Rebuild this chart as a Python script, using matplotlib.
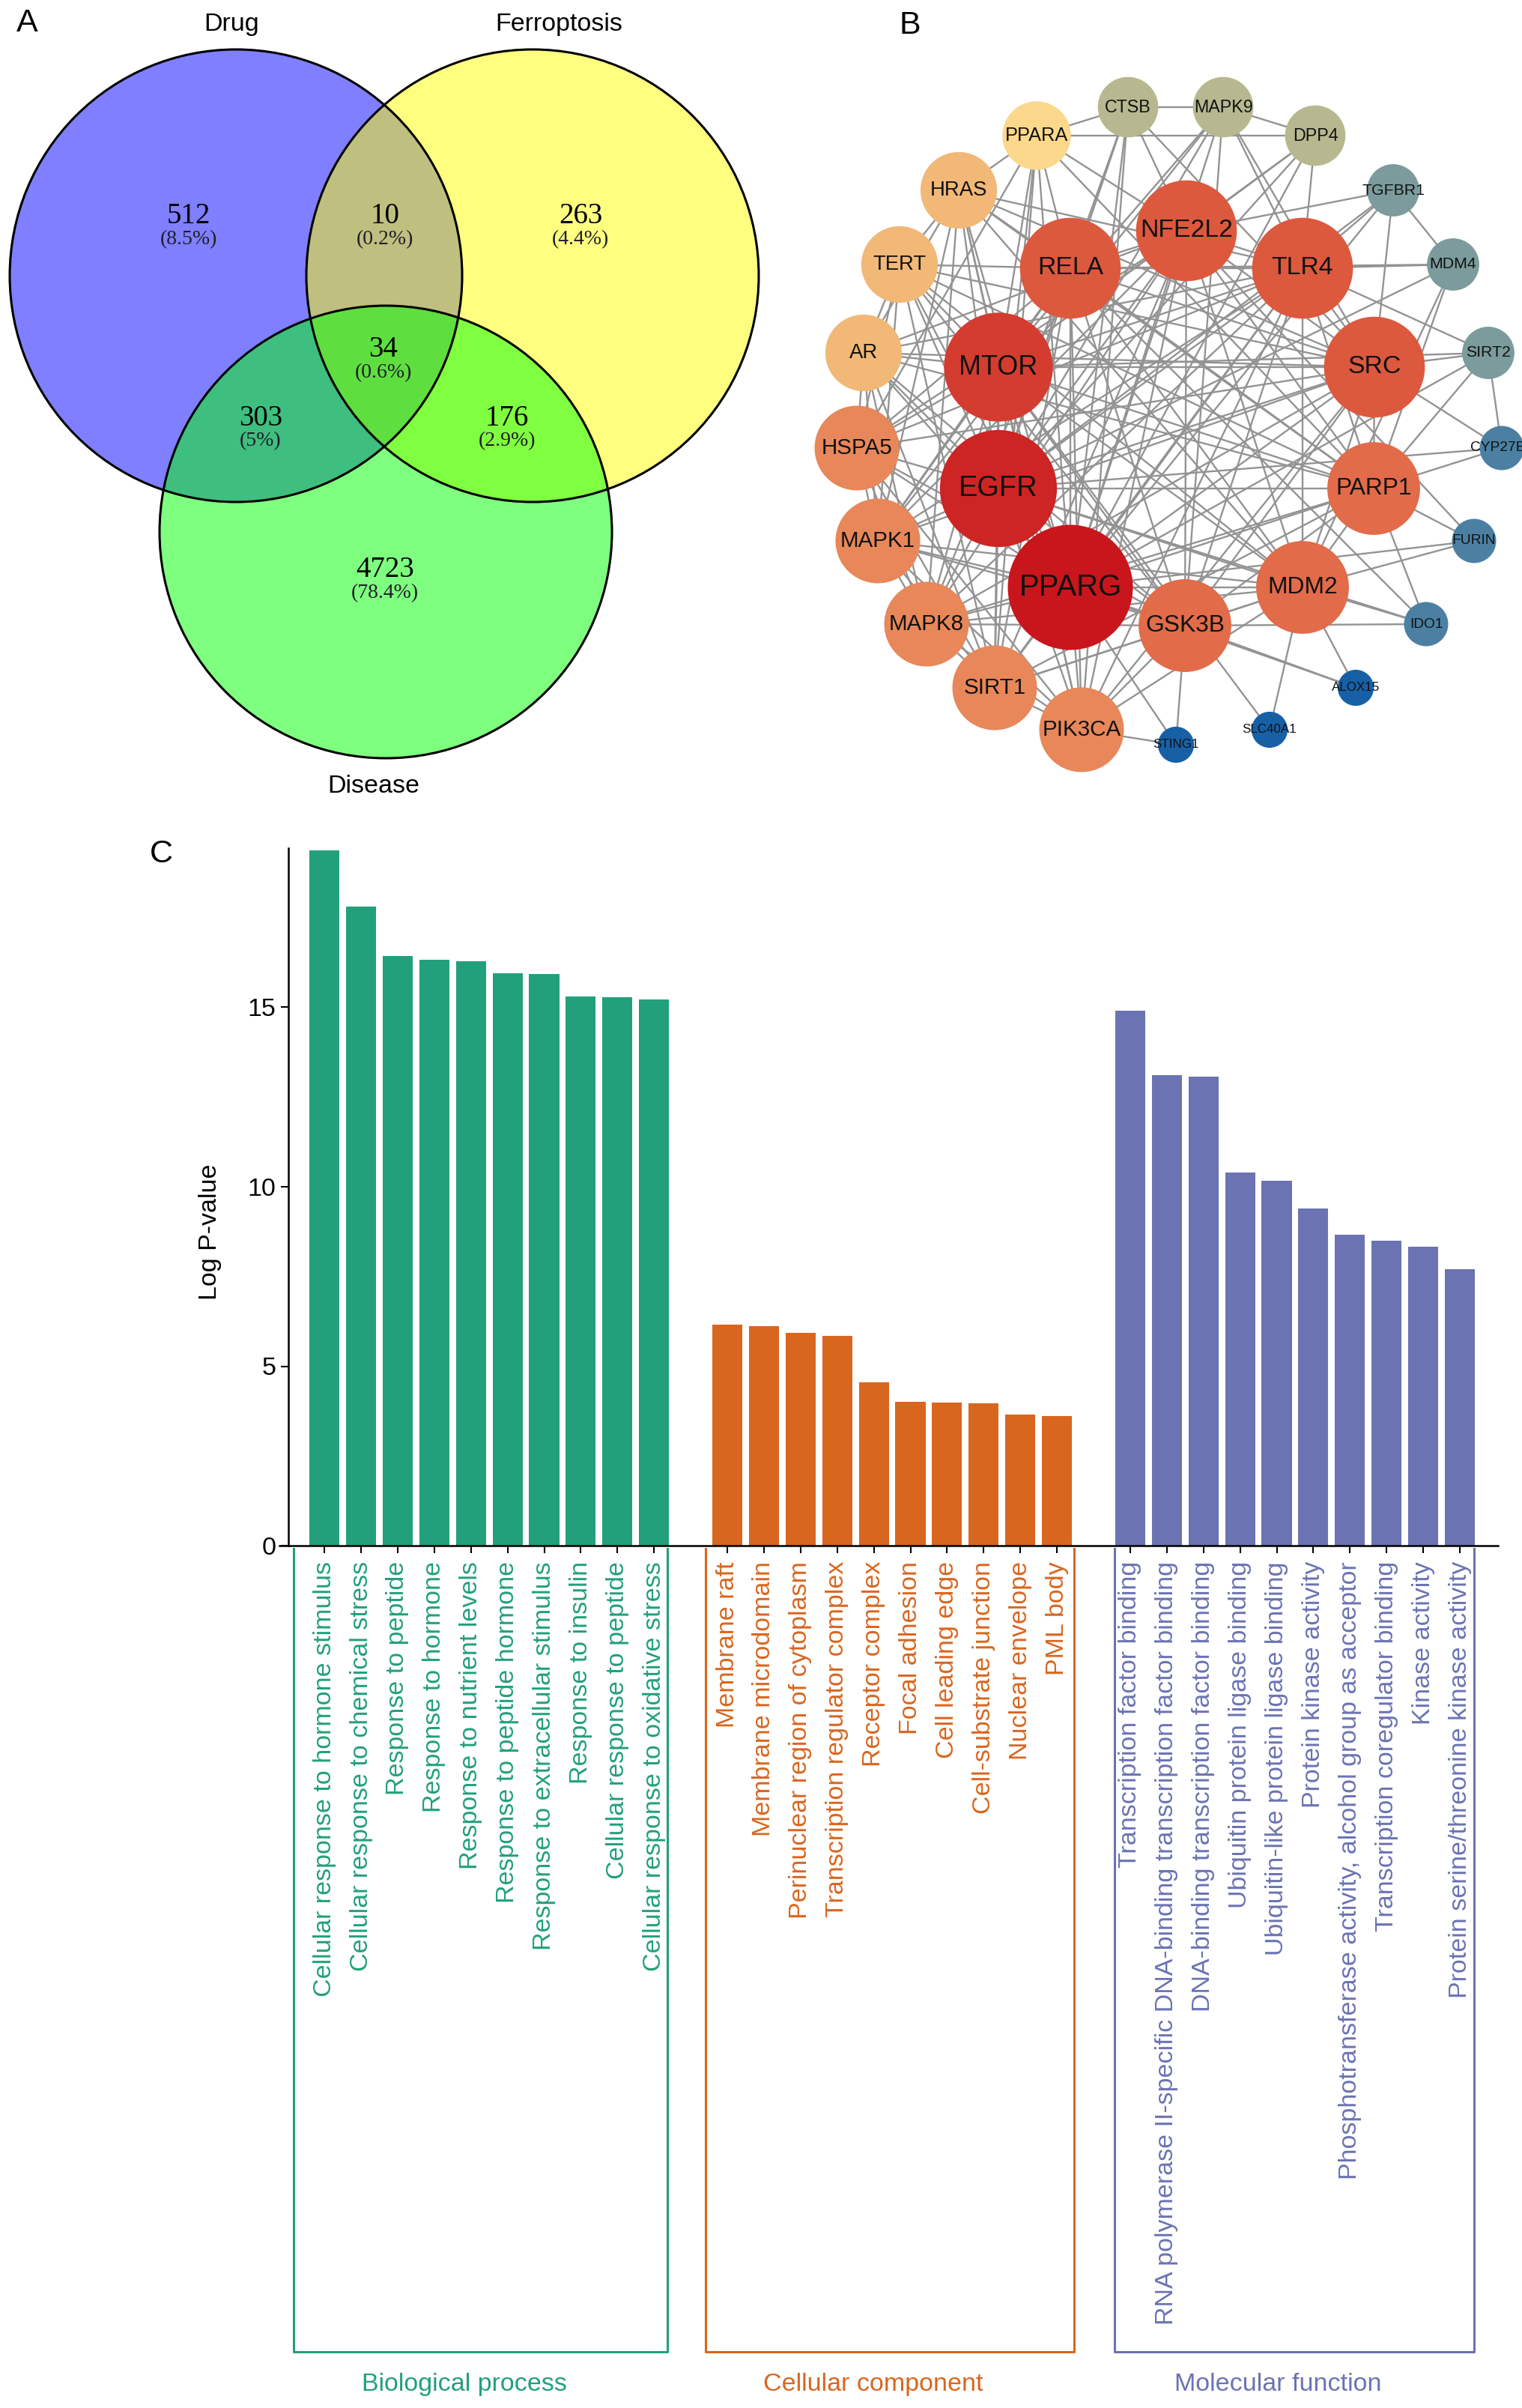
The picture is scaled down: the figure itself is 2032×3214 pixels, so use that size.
import matplotlib
matplotlib.use('Agg')
import matplotlib.pyplot as plt
import matplotlib.transforms as mtransforms
from matplotlib.patches import Circle
from matplotlib.colors import LinearSegmentedColormap, Normalize

plt.rcParams['font.family'] = ['Liberation Sans', 'DejaVu Sans']

W, H, DPI = 2032, 3214, 100

# ---------------- A: Venn ----------------
venn_sets = ['Drug', 'Ferroptosis', 'Disease']
venn_counts = [512, 10, 263, 34, 303, 176, 4723]   # D, D&F, F, all, D&Dis, F&Dis, Dis
venn_total = sum(venn_counts)

# ---------------- B: PPI network ----------------
net_nodes = ['PPARG', 'EGFR', 'MTOR', 'RELA', 'NFE2L2', 'TLR4', 'SRC', 'PARP1', 'MDM2', 'GSK3B',
             'MAPK8', 'SIRT1', 'PIK3CA', 'MAPK1', 'HSPA5', 'AR', 'TERT', 'HRAS', 'PPARA',
             'CTSB', 'MAPK9', 'DPP4', 'TGFBR1', 'MDM4', 'SIRT2', 'CYP27B1', 'FURIN', 'IDO1',
             'ALOX15', 'SLC40A1', 'STING1']
net_degree = [25, 23, 21, 19, 19, 19, 19, 17, 17, 17, 15, 15, 15, 15, 15, 13, 13, 13, 11,
              9, 9, 9, 7, 7, 7, 5, 5, 5, 3, 3, 3]
net_edges = {
    'PPARG': ['EGFR', 'MTOR', 'RELA', 'NFE2L2', 'TLR4', 'SRC', 'PARP1', 'MDM2', 'GSK3B', 'MAPK8',
              'SIRT1', 'PIK3CA', 'MAPK1', 'HSPA5', 'AR', 'TERT', 'HRAS', 'PPARA', 'CTSB', 'MAPK9',
              'DPP4', 'TGFBR1', 'SIRT2', 'FURIN', 'ALOX15', 'STING1'],
    'EGFR': ['MTOR', 'RELA', 'NFE2L2', 'TLR4', 'SRC', 'PARP1', 'MDM2', 'GSK3B', 'MAPK8', 'SIRT1',
             'PIK3CA', 'MAPK1', 'HSPA5', 'AR', 'TERT', 'HRAS', 'PPARA', 'CTSB', 'MAPK9', 'DPP4',
             'TGFBR1', 'MDM4', 'CYP27B1', 'IDO1'],
    'MTOR': ['RELA', 'NFE2L2', 'TLR4', 'SRC', 'PARP1', 'MDM2', 'GSK3B', 'MAPK8', 'SIRT1', 'PIK3CA',
             'MAPK1', 'HSPA5', 'AR', 'TERT', 'HRAS', 'PPARA', 'MAPK9', 'DPP4', 'SIRT2', 'SLC40A1'],
    'RELA': ['NFE2L2', 'TLR4', 'SRC', 'PARP1', 'MDM2', 'GSK3B', 'MAPK8', 'SIRT1', 'PIK3CA', 'MAPK1',
             'HSPA5', 'TERT', 'HRAS', 'PPARA', 'CTSB', 'MDM4', 'IDO1'],
    'NFE2L2': ['TLR4', 'SRC', 'PARP1', 'MDM2', 'GSK3B', 'MAPK8', 'SIRT1', 'PIK3CA', 'MAPK1', 'HSPA5',
               'AR', 'PPARA', 'CTSB', 'DPP4', 'TGFBR1', 'FURIN'],
    'TLR4': ['SRC', 'PARP1', 'MDM2', 'GSK3B', 'MAPK8', 'SIRT1', 'PIK3CA', 'MAPK1', 'HSPA5', 'AR',
             'HRAS', 'MAPK9', 'DPP4', 'TGFBR1', 'MDM4', 'SIRT2'],
    'SRC': ['PARP1', 'MDM2', 'GSK3B', 'MAPK8', 'PIK3CA', 'MAPK1', 'HSPA5', 'AR', 'TERT', 'HRAS',
            'CTSB', 'MAPK9', 'TGFBR1', 'SIRT2', 'CYP27B1'],
    'PARP1': ['MDM2', 'GSK3B', 'SIRT1', 'MAPK8', 'AR', 'TERT', 'HRAS', 'PPARA', 'MDM4', 'SIRT2',
              'CYP27B1', 'FURIN', 'IDO1'],
    'MDM2': ['GSK3B', 'MAPK8', 'SIRT1', 'PIK3CA', 'MAPK1', 'TERT', 'HRAS', 'MDM4', 'FURIN', 'IDO1',
             'ALOX15', 'SLC40A1'],
    'GSK3B': ['MAPK8', 'SIRT1', 'PIK3CA', 'MAPK1', 'HSPA5', 'AR', 'TERT', 'MAPK9', 'IDO1', 'ALOX15',
              'STING1'],
    'MAPK8': ['SIRT1', 'PIK3CA', 'MAPK1', 'HSPA5', 'AR', 'HRAS'],
    'SIRT1': ['PIK3CA', 'MAPK1', 'HSPA5', 'AR', 'TERT', 'PPARA'],
    'PIK3CA': ['MAPK1', 'HSPA5', 'HRAS', 'STING1', 'CTSB'],
    'MAPK1': ['HSPA5', 'AR', 'TERT', 'HRAS', 'MAPK9'],
    'HSPA5': ['AR', 'TERT', 'PPARA'],
    'AR': ['TERT', 'HRAS'],
    'TERT': ['HRAS'],
    'HRAS': ['PPARA'],
    'PPARA': ['CTSB', 'DPP4'],
    'CTSB': ['MAPK9'],
    'MAPK9': ['DPP4'],
    'TGFBR1': ['MDM4'],
    'SIRT2': ['CYP27B1'],
}
# node layout (pixel positions of the Cytoscape picture)
net_layout = {
    'NFE2L2': (1584, 308), 'RELA': (1429, 358), 'TLR4': (1739, 358), 'MTOR': (1333, 490),
    'SRC': (1835, 490), 'EGFR': (1333, 652), 'PARP1': (1834, 652), 'PPARG': (1429, 784),
    'MDM2': (1739, 784), 'GSK3B': (1582, 835),
    'CTSB': (1506, 143), 'MAPK9': (1633, 143), 'DPP4': (1756, 181), 'PPARA': (1384, 181),
    'HRAS': (1280, 254), 'TGFBR1': (1860, 254), 'TERT': (1201, 353), 'MDM4': (1940, 353),
    'AR': (1153, 471), 'SIRT2': (1987, 471), 'HSPA5': (1144, 598), 'CYP27B1': (2005, 598),
    'MAPK1': (1172, 722), 'FURIN': (1968, 722), 'MAPK8': (1237, 833), 'IDO1': (1904, 833),
    'SIRT1': (1328, 918), 'ALOX15': (1810, 918), 'PIK3CA': (1444, 974), 'STING1': (1570, 994),
    'SLC40A1': (1695, 974),
}

# ---------------- C: GO enrichment ----------------
bp_terms = ['Cellular response to hormone stimulus', 'Cellular response to chemical stress',
            'Response to peptide', 'Response to hormone', 'Response to nutrient levels',
            'Response to peptide hormone', 'Response to extracellular stimulus',
            'Response to insulin', 'Cellular response to peptide',
            'Cellular response to oxidative stress']
bp_vals = [19.37, 17.80, 16.42, 16.32, 16.29, 15.96, 15.93, 15.31, 15.29, 15.21]
cc_terms = ['Membrane raft', 'Membrane microdomain', 'Perinuclear region of cytoplasm',
            'Transcription regulator complex', 'Receptor complex', 'Focal adhesion',
            'Cell leading edge', 'Cell-substrate junction', 'Nuclear envelope', 'PML body']
cc_vals = [6.15, 6.12, 5.92, 5.85, 4.56, 4.00, 3.98, 3.96, 3.66, 3.61]
mf_terms = ['Transcription factor binding',
            'RNA polymerase II-specific DNA-binding transcription factor binding',
            'DNA-binding transcription factor binding', 'Ubiquitin protein ligase binding',
            'Ubiquitin-like protein ligase binding', 'Protein kinase activity',
            'Phosphotransferase activity, alcohol group as acceptor',
            'Transcription coregulator binding', 'Kinase activity',
            'Protein serine/threonine kinase activity']
mf_vals = [14.91, 13.12, 13.07, 10.39, 10.17, 9.39, 8.66, 8.49, 8.34, 7.70]
go_groups = ['Biological process', 'Cellular component', 'Molecular function']


def main():
    fig = plt.figure(figsize=(W / DPI, H / DPI), dpi=DPI)
    ov = fig.add_axes([0, 0, 1, 1])
    ov.set_xlim(0, W); ov.set_ylim(H, 0); ov.axis('off')

    for t, (x, y) in zip('ABC', [(36, 31), (1215, 34), (215, 1140)]):
        ov.text(x, y, t, fontsize=31, ha='center', va='center')

    # ---- A ----
    centers = [(315, 368), (711, 368), (515, 710)]
    fills = ['#0000ff', '#ffff00', '#00ff00']
    for (cx, cy), c in zip(centers, fills):
        ov.add_patch(Circle((cx, cy), 302, facecolor=c, alpha=0.5, edgecolor='none'))
    for cx, cy in centers:
        ov.add_patch(Circle((cx, cy), 302, facecolor='none', edgecolor='black', lw=2.2))
    for name, xy in zip(venn_sets, [(309, 33), (746, 33), (499, 1050)]):
        ov.text(*xy, name, fontsize=24.5, ha='center', va='center')
    spots = [(252, 289), (514, 289), (775, 289), (512, 467), (348, 558), (677, 558), (514, 761)]
    for (x, y), n in zip(spots, venn_counts):
        pct = f'({round(n / venn_total * 100, 1):g}%)'
        ov.text(x, y, str(n), fontsize=28, ha='center', va='center', family='Liberation Serif')
        ov.text(x, y + 31, pct, fontsize=20, ha='center', va='center', family='Liberation Serif',
                color='#1e1e2a')

    # ---- B ----
    lv = [3, 5, 7, 9, 11, 13, 15, 17, 19, 21, 23, 25]
    lc = ['#1760a6', '#4b80a3', '#7c9b9c', '#b8b98f', '#fbd88b', '#f1b877', '#e8875a',
          '#e26b4a', '#dc5a3e', '#d43c30', '#cd2424', '#c8161c']
    norm = Normalize(3, 25)
    cmap = LinearSegmentedColormap.from_list('deg', [(norm(v), c) for v, c in zip(lv, lc)])
    for a, nbrs in net_edges.items():
        for b in nbrs:
            (x0, y0), (x1, y1) = net_layout[a], net_layout[b]
            ov.plot([x0, x1], [y0, y1], color='#939393', lw=1.7, zorder=2, solid_capstyle='butt')
    for name, d in zip(net_nodes, net_degree):
        r = 16 + 2.7 * d
        x, y = net_layout[name]
        ov.add_patch(Circle((x, y), r, facecolor=cmap(norm(d)), edgecolor='none', zorder=3))
        ov.text(x, y, name, fontsize=5.5 + 0.28 * r, ha='center', va='center', zorder=4,
                color='#111111')

    # ---- C ----
    px_unit = 48.9
    ax_l, ax_r, ax_b, ax_t = 373, 2000, 2063, 1132
    ax = fig.add_axes([ax_l / W, 1 - ax_b / H, (ax_r - ax_l) / W, (ax_b - ax_t) / H])
    x0 = -1.23
    ax.set_xlim(x0, x0 + (ax_r - ax_l) / px_unit)
    ax.set_ylim(0, (ax_b - ax_t) / 47.9)
    for s in ['top', 'right']:
        ax.spines[s].set_visible(False)
    ax.spines['left'].set_position(('data', -0.98))
    for s in ['left', 'bottom']:
        ax.spines[s].set_linewidth(1.8)
    colors = ['#22a07b', '#d9661f', '#6b73b3']
    pads = [(0.84, 0.37), (0.59, 0.47), (0.42, 0.39)]
    tr = mtransforms.blended_transform_factory(ax.transData, ax.transAxes)
    ticks, labels, lcols = [], [], []
    for g, (terms, vals) in enumerate([(bp_terms, bp_vals), (cc_terms, cc_vals), (mf_terms, mf_vals)]):
        pos = [g * 11 + i for i in range(len(vals))]
        ax.bar(pos, vals, width=0.82, color=colors[g], zorder=2)
        ticks += pos; labels += terms; lcols += [colors[g]] * len(terms)
        left, right = pos[0] - pads[g][0], pos[-1] + pads[g][1]
        ax.plot([left, left, right, right], [-0.004, -1.1557, -1.1557, -0.004], transform=tr,
                clip_on=False, color=colors[g], lw=2.2)
        ax.text((left + right) / 2 - 0.45, -1.203, go_groups[g], transform=tr, clip_on=False,
                ha='center', va='center', fontsize=24.5, color=colors[g])
    ax.set_xticks(ticks)
    ax.set_xticklabels(labels, rotation=90, fontsize=24.5)
    for lab, c in zip(ax.get_xticklabels(), lcols):
        lab.set_color(c)
    ax.set_yticks([0, 5, 10, 15])
    ax.tick_params(axis='y', labelsize=24.5, length=7.2, width=1.5, pad=5)
    ax.tick_params(axis='x', length=7.2, width=1.5, pad=8)
    ov.text(280, 1644, 'Log P-value', rotation=90, fontsize=24.5, ha='center', va='center')

    fig.savefig('out.png', dpi=DPI)
    plt.close(fig)


if __name__ == '__main__':
    main()
